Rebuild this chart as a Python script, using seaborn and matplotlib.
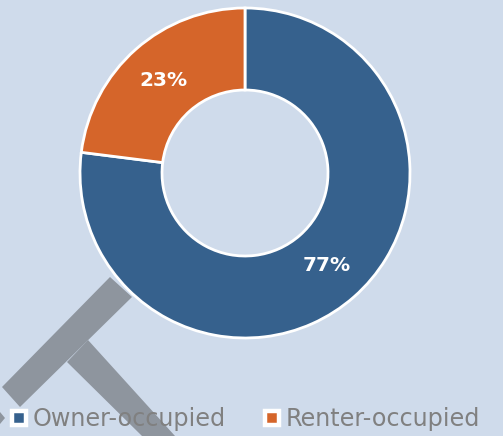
import matplotlib
matplotlib.use("Agg")
import matplotlib.pyplot as plt
from matplotlib.patches import Polygon
from matplotlib.lines import Line2D
import seaborn as sns

categories = ["Owner-occupied", "Renter-occupied"]
shares = [77, 23]
colors = ["#36618d", "#d5652a"]
background = "#cfdbeb"

sns.set_theme(style="white")
plt.rcParams["font.family"] = ["DejaVu Sans"]

W, H = 503, 436
fig = plt.figure(figsize=(W / 100, H / 100), dpi=100, facecolor=background)
ax = fig.add_axes([0, 0, 1, 1])
ax.set_facecolor(background)

outer_r = 165
ring_w = 82
wedges, texts, autotexts = ax.pie(
    shares,
    colors=sns.color_palette(colors),
    startangle=90,
    counterclock=False,
    center=(245, H - 173),
    radius=outer_r,
    autopct=lambda p: f"{p:.0f}%",
    pctdistance=0.75,
    wedgeprops=dict(width=ring_w, edgecolor="white", linewidth=2),
    textprops=dict(color="white", fontsize=14.5),
    frame=True,
)
ax.set_xlim(0, W)
ax.set_ylim(0, H)
ax.set_aspect("equal")
ax.axis("off")
for t in autotexts:
    t.set_fontweight("bold")

# legend along the bottom
handles = [
    Line2D([], [], marker="s", linestyle="none", markersize=10,
           markerfacecolor=c, markeredgecolor="white", markeredgewidth=3.2)
    for c in colors
]
leg = fig.legend(handles, categories, loc="center left", ncol=2,
                 bbox_to_anchor=(10 / W, 1 - 419 / H), borderaxespad=0,
                 borderpad=0, frameon=False, fontsize=17.2,
                 handletextpad=0.2, columnspacing=1.55,
                 handlelength=0.75, labelcolor="#808080")

# grey stamp in the lower-left corner
stamp = "#8e959e"
bar1 = [(110, 277), (132, 297), (20, 407), (2, 387)]
bar2 = [(88, 340), (67, 362), (142, 436), (175, 436)]
for pts in (bar1, bar2):
    poly = Polygon([(x, H - y) for x, y in pts], closed=True,
                   facecolor=stamp, edgecolor="none", zorder=3)
    ax.add_patch(poly)
ax.add_patch(Polygon([(0, H - 412), (5, H - 418), (0, H - 424)],
                     closed=True, facecolor=stamp, edgecolor="none", zorder=3))
leg.set_zorder(5)

fig.savefig("out.png", dpi=100, facecolor=background)
